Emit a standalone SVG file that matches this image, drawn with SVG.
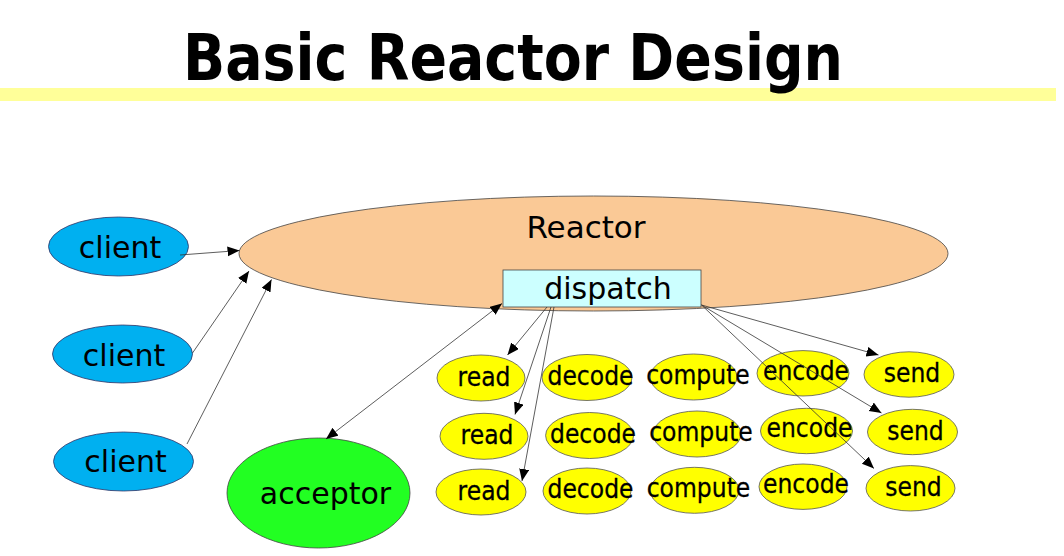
<svg xmlns="http://www.w3.org/2000/svg" width="1064" height="556" viewBox="0 0 1064 556">
<style>
.t{font-family:"DejaVu Sans","Liberation Sans",sans-serif;fill:#000;text-anchor:middle}
.big{font-size:30px}
.sm{font-size:23.5px;stroke:#000;stroke-width:0.25}
.y{fill:#ffff00;stroke:#555;stroke-width:0.8}
.cl{fill:#00b0f0;stroke:#336;stroke-width:0.8}
.ln{stroke:#333;stroke-width:0.8;fill:none;marker-end:url(#ah)}
</style>
<defs>
<marker id="ah" markerUnits="userSpaceOnUse" markerWidth="13" markerHeight="11" refX="12" refY="5" orient="auto-start-reverse">
<path d="M0,0 L12,5 L0,10 z" fill="#000"/>
</marker>
</defs>
<rect x="0" y="0" width="1064" height="556" fill="#fff"/>
<g id="title">
<rect x="0" y="88" width="1056" height="13" fill="#ffff99"/>
<text x="513" y="80" font-family="DejaVu Sans, Liberation Sans, sans-serif" font-weight="bold" font-size="64" textLength="660" lengthAdjust="spacingAndGlyphs" text-anchor="middle" fill="#000">Basic Reactor Design</text>
</g>
<g id="reactor">
<ellipse cx="593.5" cy="253.5" rx="354.5" ry="57.5" fill="#fac996" stroke="#444" stroke-width="0.8"/>
<text class="t" x="586" y="238" font-size="31">Reactor</text>
</g>
<g id="dispatch">
<rect x="503" y="270" width="198" height="37" fill="#ccffff" stroke="#444" stroke-width="0.8"/>
<text class="t big" x="608" y="299">dispatch</text>
</g>
<g id="client1">
<ellipse class="cl" cx="118.5" cy="246.5" rx="70" ry="29.5"/>
<text class="t big" x="120" y="258">client</text>
</g>
<g id="client2">
<ellipse class="cl" cx="122.5" cy="354" rx="70" ry="29"/>
<text class="t big" x="124" y="365.5">client</text>
</g>
<g id="client3">
<ellipse class="cl" cx="123.5" cy="461.5" rx="70" ry="29.5"/>
<text class="t big" x="125.5" y="472">client</text>
</g>
<g id="acceptor">
<ellipse cx="318.5" cy="493" rx="91.5" ry="55" fill="#22ff22" stroke="#444" stroke-width="0.8"/>
<text class="t big" x="325.5" y="504">acceptor</text>
</g>
<g id="read1"><ellipse class="y" cx="481" cy="378" rx="44" ry="23"/><text class="t sm" transform="translate(484,386) scale(1,1.1)">read</text></g>
<g id="decode1"><ellipse class="y" cx="587" cy="377.5" rx="45" ry="23"/><text class="t sm" transform="translate(590.5,384.5) scale(1,1.1)">decode</text></g>
<g id="compute1"><ellipse class="y" cx="693.5" cy="377" rx="43.5" ry="23"/><text class="t sm" transform="translate(698,383.5) scale(1,1.1)">compute</text></g>
<g id="encode1"><ellipse class="y" cx="803" cy="373.3" rx="46" ry="22.7"/><text class="t sm" transform="translate(806,379.5) scale(1,1.1)">encode</text></g>
<g id="send1"><ellipse class="y" cx="909" cy="374.5" rx="45" ry="22.7"/><text class="t sm" transform="translate(912,382) scale(1,1.1)">send</text></g>
<g id="read2"><ellipse class="y" cx="484" cy="436.3" rx="44" ry="23"/><text class="t sm" transform="translate(487,444.3) scale(1,1.1)">read</text></g>
<g id="decode2"><ellipse class="y" cx="589.6" cy="435.5" rx="44" ry="23"/><text class="t sm" transform="translate(593,442.5) scale(1,1.1)">decode</text></g>
<g id="compute2"><ellipse class="y" cx="697" cy="434" rx="44" ry="23"/><text class="t sm" transform="translate(701,440.5) scale(1,1.1)">compute</text></g>
<g id="encode2"><ellipse class="y" cx="806.5" cy="431" rx="46" ry="22.7"/><text class="t sm" transform="translate(809.5,437.3) scale(1,1.1)">encode</text></g>
<g id="send2"><ellipse class="y" cx="912.5" cy="432" rx="45" ry="22.7"/><text class="t sm" transform="translate(915.5,439.5) scale(1,1.1)">send</text></g>
<g id="read3"><ellipse class="y" cx="481" cy="492" rx="45" ry="23"/><text class="t sm" transform="translate(484,500) scale(1,1.1)">read</text></g>
<g id="decode3"><ellipse class="y" cx="587" cy="491" rx="44" ry="23"/><text class="t sm" transform="translate(590.5,498) scale(1,1.1)">decode</text></g>
<g id="compute3"><ellipse class="y" cx="694.5" cy="490.3" rx="44.5" ry="23"/><text class="t sm" transform="translate(698.5,496.8) scale(1,1.1)">compute</text></g>
<g id="encode3"><ellipse class="y" cx="803" cy="486.7" rx="44" ry="22.7"/><text class="t sm" transform="translate(806,493) scale(1,1.1)">encode</text></g>
<g id="send3"><ellipse class="y" cx="910.5" cy="488.3" rx="44.5" ry="22.7"/><text class="t sm" transform="translate(913.5,495.8) scale(1,1.1)">send</text></g>
<g id="connectors">
<line class="ln" x1="180" y1="255" x2="239.5" y2="250.5"/>
<line class="ln" x1="192.5" y1="353" x2="249" y2="271"/>
<line class="ln" x1="187" y1="444" x2="271.5" y2="279.5"/>
<line class="ln" x1="326" y1="439" x2="502" y2="303.5" style="marker-start:url(#ah)"/>
<line class="ln" x1="547" y1="307" x2="507.5" y2="355"/>
<line class="ln" x1="551" y1="307" x2="515" y2="414.5"/>
<line class="ln" x1="554" y1="307" x2="522" y2="481"/>
<line class="ln" x1="701.5" y1="305" x2="878.5" y2="355"/>
<line class="ln" x1="701.5" y1="305" x2="881.5" y2="413"/>
<line class="ln" x1="701.5" y1="305" x2="874" y2="468.5"/>
</g>
</svg>
